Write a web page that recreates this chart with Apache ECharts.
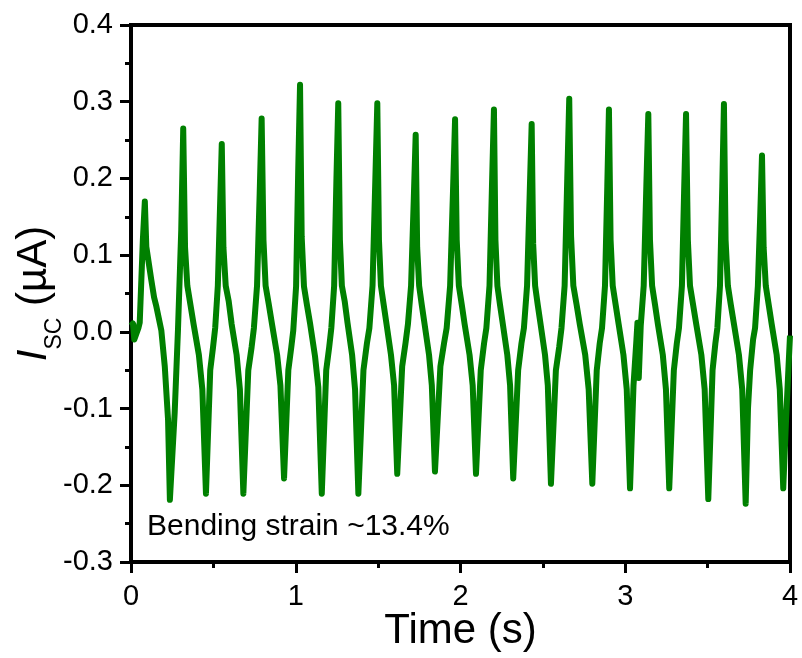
<!DOCTYPE html>
<html>
<head>
<meta charset="utf-8">
<script src="https://cdn.jsdelivr.net/npm/echarts@6/dist/echarts.min.js"></script>
<style>
html,body{margin:0;padding:0;background:#fff;}
#chart{width:802px;height:658px;}
</style>
</head>
<body>
<div id="chart"></div>
<script>
// ---- data ----
const xTicks = [0, 1, 2, 3, 4];
const yTicks = [-0.3, -0.2, -0.1, 0.0, 0.1, 0.2, 0.3, 0.4];
const annotation = 'Bending strain ~13.4%';

const time = [
  0.000, 0.012, 0.020, 0.032, 0.045, 0.053, 0.072, 0.084,
  0.093, 0.123, 0.140, 0.154, 0.184, 0.205, 0.225, 0.236,
  0.265, 0.285, 0.305, 0.317,
  0.328, 0.342, 0.361, 0.380, 0.412, 0.433, 0.455,
  0.481, 0.498, 0.511, 0.527, 0.540, 0.551,
  0.561, 0.575, 0.593, 0.611, 0.641, 0.661, 0.682,
  0.712, 0.732, 0.746, 0.765, 0.781, 0.793,
  0.804, 0.817, 0.837, 0.856, 0.887, 0.907, 0.929,
  0.955, 0.973, 0.985, 1.002, 1.015, 1.026,
  1.036, 1.050, 1.068, 1.087, 1.117, 1.137, 1.158,
  1.185, 1.203, 1.216, 1.233, 1.247, 1.258,
  1.268, 1.280, 1.297, 1.314, 1.342, 1.360, 1.380,
  1.411, 1.432, 1.447, 1.466, 1.482, 1.495,
  1.505, 1.517, 1.534, 1.551, 1.578, 1.597, 1.616,
  1.646, 1.666, 1.681, 1.700, 1.716, 1.728,
  1.737, 1.749, 1.765, 1.782, 1.809, 1.826, 1.845,
  1.878, 1.900, 1.916, 1.937, 1.954, 1.967,
  1.977, 1.990, 2.008, 2.025, 2.055, 2.074, 2.094,
  2.123, 2.143, 2.157, 2.176, 2.191, 2.203,
  2.212, 2.224, 2.240, 2.257, 2.284, 2.301, 2.320,
  2.350, 2.370, 2.385, 2.404, 2.420, 2.432,
  2.441, 2.453, 2.469, 2.486, 2.513, 2.530, 2.549,
  2.579, 2.599, 2.613, 2.632, 2.648, 2.660,
  2.671, 2.685, 2.705, 2.724, 2.757, 2.778, 2.800,
  2.827, 2.845, 2.859, 2.877, 2.891, 2.901,
  2.911, 2.924, 2.942, 2.960, 2.989, 3.009, 3.029,
  3.050, 3.068, 3.074, 3.082, 3.094, 3.112, 3.128, 3.140,
  3.150, 3.163, 3.181, 3.198, 3.228, 3.247, 3.267,
  3.295, 3.313, 3.326, 3.344, 3.358, 3.369,
  3.380, 3.393, 3.412, 3.431, 3.462, 3.482, 3.504,
  3.530, 3.547, 3.559, 3.575, 3.589, 3.599,
  3.609, 3.623, 3.641, 3.660, 3.690, 3.710, 3.731,
  3.745, 3.758, 3.776, 3.788, 3.805, 3.819, 3.830,
  3.840, 3.853, 3.871, 3.889, 3.919, 3.938, 3.959,
  3.975, 3.990, 4.000
];

const current = [
  0.008, 0.011, -0.010, -0.012, 0.005, 0.012, 0.120, 0.170,
  0.111, 0.068, 0.045, 0.033, 0.002, -0.045, -0.115, -0.219,
  -0.106, 0.002, 0.133, 0.265,
  0.110, 0.060, 0.035, 0.010, -0.030, -0.075, -0.211,
  -0.050, -0.020, 0.005, 0.060, 0.160, 0.245,
  0.110, 0.060, 0.040, 0.010, -0.030, -0.075, -0.211,
  -0.050, -0.020, 0.005, 0.060, 0.180, 0.278,
  0.120, 0.060, 0.035, 0.010, -0.030, -0.070, -0.191,
  -0.050, -0.020, 0.002, 0.059, 0.211, 0.322,
  0.124, 0.059, 0.035, 0.011, -0.032, -0.072, -0.211,
  -0.050, -0.020, 0.005, 0.060, 0.200, 0.298,
  0.120, 0.060, 0.040, 0.012, -0.030, -0.075, -0.211,
  -0.050, -0.015, 0.005, 0.060, 0.190, 0.298,
  0.120, 0.060, 0.035, 0.010, -0.030, -0.070, -0.185,
  -0.045, -0.015, 0.010, 0.060, 0.170, 0.257,
  0.110, 0.060, 0.035, 0.010, -0.030, -0.070, -0.182,
  -0.045, -0.015, 0.005, 0.060, 0.180, 0.277,
  0.120, 0.060, 0.035, 0.010, -0.030, -0.070, -0.185,
  -0.050, -0.015, 0.005, 0.060, 0.190, 0.290,
  0.120, 0.060, 0.035, 0.010, -0.030, -0.070, -0.191,
  -0.050, -0.015, 0.005, 0.060, 0.180, 0.271,
  0.115, 0.060, 0.035, 0.010, -0.030, -0.070, -0.198,
  -0.050, -0.020, 0.005, 0.060, 0.200, 0.304,
  0.125, 0.060, 0.035, 0.010, -0.030, -0.075, -0.198,
  -0.050, -0.015, 0.005, 0.060, 0.190, 0.290,
  0.120, 0.060, 0.035, 0.010, -0.030, -0.075, -0.204,
  -0.070, -0.010, 0.012, -0.060, 0.008, 0.060, 0.190, 0.284,
  0.120, 0.060, 0.035, 0.010, -0.030, -0.075, -0.204,
  -0.050, -0.015, 0.005, 0.060, 0.190, 0.284,
  0.120, 0.060, 0.035, 0.010, -0.030, -0.075, -0.218,
  -0.050, -0.015, 0.005, 0.060, 0.190, 0.297,
  0.120, 0.060, 0.035, 0.010, -0.030, -0.075, -0.224,
  -0.100, -0.050, -0.010, 0.005, 0.060, 0.150, 0.230,
  0.110, 0.060, 0.035, 0.010, -0.030, -0.075, -0.204,
  -0.120, -0.050, -0.005
];

// ---- chart ----
const FONT = '"Liberation Sans", Arial, sans-serif';
const points = time.map((t, i) => [t, current[i]]);

const chart = echarts.init(document.getElementById('chart'), null, {renderer: 'canvas'});
chart.setOption({
  animation: false,
  backgroundColor: '#fff',
  grid: {
    left: 131, right: 12, top: 25, bottom: 96,
    containLabel: false, outerBoundsMode: 'none',
    show: true, borderColor: '#000', borderWidth: 4, backgroundColor: 'transparent'
  },
  xAxis: {
    type: 'value',
    min: xTicks[0], max: xTicks[xTicks.length - 1], interval: 1,
    name: 'Time (s)', nameLocation: 'middle', nameGap: 48, nameMoveOverlap: false,
    nameTextStyle: {fontSize: 42, color: '#000', fontFamily: FONT},
    axisLine: {show: true, onZero: false, lineStyle: {color: '#000', width: 4}},
    axisTick: {show: true, inside: false, length: 11, lineStyle: {color: '#000', width: 3}},
    minorTick: {show: true, splitNumber: 2, length: 6, lineStyle: {color: '#000', width: 3}},
    axisLabel: {margin: 20, fontSize: 29, color: '#000', fontFamily: FONT,
      formatter: v => String(Math.round(v))},
    splitLine: {show: false}, minorSplitLine: {show: false}
  },
  yAxis: {
    type: 'value',
    min: yTicks[0], max: yTicks[yTicks.length - 1], interval: 0.1,
    name: '{i|I}{s|SC}{n| (µA)}', nameLocation: 'middle', nameGap: 76, nameRotate: 90,
    nameMoveOverlap: false,
    nameTextStyle: {
      color: '#000', fontFamily: FONT,
      rich: {
        i: {fontSize: 42, fontStyle: 'italic', fontFamily: FONT, color: '#000', lineHeight: 42, verticalAlign: 'top'},
        s: {fontSize: 23, fontFamily: FONT, color: '#000', lineHeight: 23, padding: [30, 0, 0, 0], verticalAlign: 'top'},
        n: {fontSize: 42, fontFamily: FONT, color: '#000', lineHeight: 42, verticalAlign: 'top'}
      }
    },
    axisLine: {show: true, onZero: false, lineStyle: {color: '#000', width: 4}},
    axisTick: {show: true, inside: false, length: 11, lineStyle: {color: '#000', width: 3}},
    minorTick: {show: true, splitNumber: 2, length: 6, lineStyle: {color: '#000', width: 3}},
    axisLabel: {margin: 18, fontSize: 29, color: '#000', fontFamily: FONT,
      formatter: v => (Math.abs(v) < 1e-9 ? 0 : v).toFixed(1)},
    splitLine: {show: false}, minorSplitLine: {show: false}
  },
  graphic: [{
    type: 'text', left: 147, top: 512, z: 10,
    style: {text: annotation, fontSize: 30, fontFamily: FONT, fill: '#000'}
  }],
  series: [{
    type: 'line',
    data: points,
    showSymbol: false,
    symbol: 'none',
    clip: true,
    lineStyle: {color: '#008000', width: 6, join: 'round'},
    itemStyle: {color: '#008000'}
  }]
});
</script>
</body>
</html>
